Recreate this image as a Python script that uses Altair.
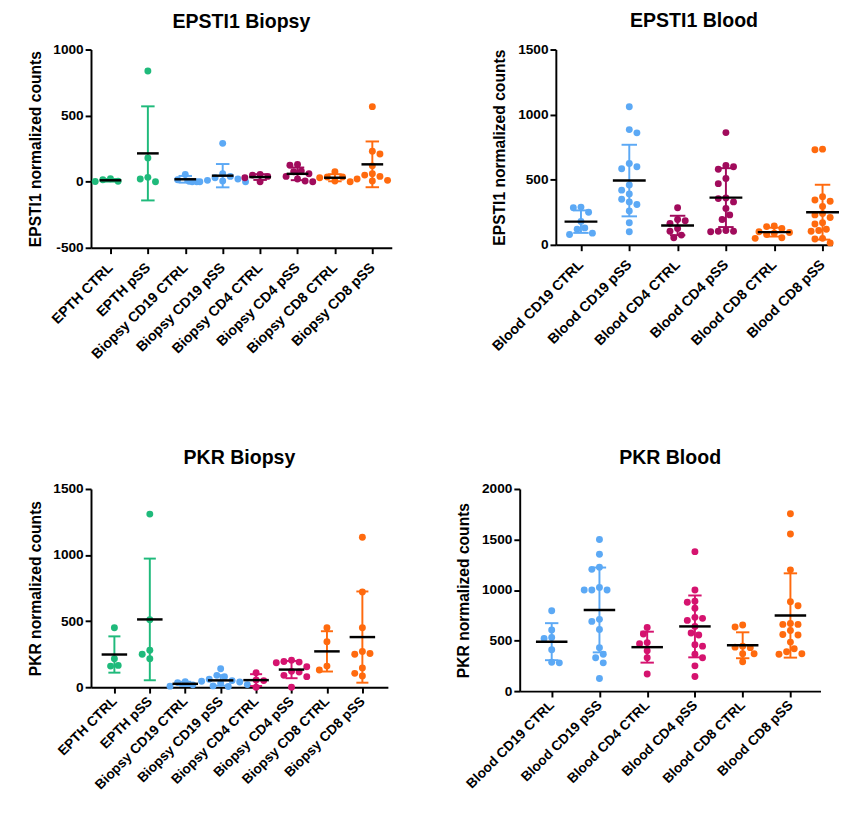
import json
import altair as alt
import pandas as pd

# ---------------- data ----------------
GREEN = "#1FBA7B"
BLUE = "#5CA9F5"
MAROON = "#A10B5C"
PINK = "#D5136F"
ORANGE = "#FF6A0E"

tl_groups = ["EPTH CTRL", "EPTH pSS", "Biopsy CD19 CTRL", "Biopsy CD19 pSS",
             "Biopsy CD4 CTRL", "Biopsy CD4 pSS", "Biopsy CD8 CTRL", "Biopsy CD8 pSS"]
tl_colors = [GREEN, GREEN, BLUE, BLUE, MAROON, MAROON, ORANGE, ORANGE]
tl_values = [
    [22, 15, 3, 2],
    [838, 180, 33, 20, 0],
    [55, 15, 3, 0],
    [290, 60, 40, 30, 20, 10, 5, 0, 0, 0],
    [55, 50, 40, 30, 0],
    [130, 125, 80, 75, 60, 40, 20, 5, 0],
    [75, 35, 35, 30, 5, 0],
    [568, 230, 210, 120, 60, 50, 40, 20, 10, 5],
]
tl_yticks = [-500, 0, 500, 1000]

tr_groups = ["Blood CD19 CTRL", "Blood CD19 pSS", "Blood CD4 CTRL",
             "Blood CD4 pSS", "Blood CD8 CTRL", "Blood CD8 pSS"]
tr_colors = [BLUE, BLUE, MAROON, MAROON, ORANGE, ORANGE]
tr_values = [
    [290, 285, 250, 180, 130, 120, 90, 80],
    [1060, 885, 860, 625, 600, 585, 460, 420, 390, 350, 330, 310, 260, 170, 100],
    [285, 195, 185, 165, 125, 105, 75, 55],
    [862, 610, 600, 580, 510, 470, 360, 355, 330, 280, 230, 195, 110, 105, 105, 100],
    [145, 140, 125, 100, 95, 90, 80, 55, 50],
    [735, 730, 370, 345, 335, 295, 240, 230, 210, 170, 160, 120, 110, 105, 50, 45, 15],
]
tr_yticks = [0, 500, 1000, 1500]

bl_groups = tl_groups
bl_colors = [GREEN, GREEN, BLUE, BLUE, PINK, PINK, ORANGE, ORANGE]
bl_values = [
    [450, 215, 165, 160],
    [1310, 510, 280, 250, 215],
    [42, 35, 18, 8],
    [140, 90, 80, 60, 50, 45, 40, 30, 20, 10, 5],
    [110, 55, 50, 0],
    [205, 195, 190, 185, 155, 120, 115, 90, 80, 0],
    [450, 345, 160, 130],
    [1135, 720, 450, 270, 255, 250, 145, 105, 85],
]
bl_yticks = [0, 500, 1000, 1500]

br_groups = tr_groups
br_colors = [BLUE, BLUE, PINK, PINK, ORANGE, ORANGE]
br_values = [
    [795, 605, 530, 520, 410, 285, 280],
    [1500, 1355, 1225, 1205, 1025, 1000, 1000, 1000, 710, 690, 610, 430, 365, 330, 280, 125],
    [630, 565, 480, 470, 400, 330, 170],
    [1380, 1000, 890, 880, 820, 730, 720, 700, 640, 575, 555, 460, 445, 365, 330, 250, 145],
    [655, 635, 445, 435, 430, 370, 370, 290],
    [1755, 1555, 1200, 885, 845, 670, 660, 660, 600, 560, 555, 485, 420, 390, 370, 365],
]
br_yticks = [0, 500, 1000, 1500, 2000]

FONT = "Liberation Sans"
DOT = 50  # symbol area


def swarm(vals, ypx, step_px, diam=7.8):
    """Deterministic beeswarm: horizontal offsets (in category units) so dots do not overlap."""
    order = sorted(range(len(vals)), key=lambda i: -vals[i])
    placed = []
    offs = [0.0] * len(vals)
    for n_i, i in enumerate(order):
        y = vals[i] * ypx
        best = None
        for k in range(0, 60):
            for sgn in ((1, -1) if n_i % 2 == 0 else (-1, 1)):
                x = sgn * k * diam * 0.5
                if all((x - px) ** 2 + (y - py) ** 2 >= (diam * 0.92) ** 2 for px, py in placed):
                    best = x
                    break
            if best is not None:
                break
        placed.append((best, y))
        offs[i] = best / step_px
    return offs


def panel(title, ytitle, groups, values, colors, ydom, yticks, width, height,
          padl, padr, meanh, caph, toff, xlabpad, xlabsize, ytitle_lead=0):
    n = len(groups)
    step_px = width / (n - 1 + padl + padr)
    ypx = height / (ydom[1] - ydom[0])
    rows = []
    for gi, (g, vals) in enumerate(zip(groups, values)):
        for v, o in zip(vals, swarm(vals, ypx, step_px)):
            rows.append({"group": g, "col": colors[gi], "idx": gi, "value": v, "pos": gi + o})
    df = pd.DataFrame(rows)

    xscale = alt.Scale(domain=[-padl, n - 1 + padr], nice=False, zero=False)
    yscale = alt.Scale(domain=ydom, nice=False, zero=False)
    color = alt.Color("col:N", scale=None, legend=None)
    xaxis = alt.Axis(title=None, values=list(range(n)),
                     labelExpr=json.dumps(groups) + "[round(datum.value)]",
                     labelAngle=-45, labelAlign="right", labelBaseline="middle",
                     labelFontSize=xlabsize, labelPadding=xlabpad, labelOverlap=False,
                     labelBound=False, labelFlush=False)
    ytitle_text = ["", ytitle] if ytitle_lead else ytitle
    yaxis_kw = dict(title=ytitle_text, values=yticks, labelExpr="'' + datum.value")
    if ytitle_lead:
        yaxis_kw["titleLineHeight"] = ytitle_lead
    yaxis = alt.Axis(**yaxis_kw)

    base = alt.Chart(df)
    pts = base.mark_circle(size=DOT, opacity=1).encode(
        x=alt.X("pos:Q", scale=xscale, axis=xaxis),
        y=alt.Y("value:Q", scale=yscale, axis=yaxis),
        color=color,
    )
    stats = base.transform_aggregate(
        mean="mean(value)", sd="stdev(value)", groupby=["idx", "col"]
    ).transform_calculate(
        lo="datum.mean - datum.sd",
        hi="datum.mean + datum.sd",
        m1=f"datum.idx - {meanh}",
        m2=f"datum.idx + {meanh}",
        c1=f"datum.idx - {caph}",
        c2=f"datum.idx + {caph}",
    )
    vbar = stats.mark_rule(strokeWidth=2).encode(
        x=alt.X("idx:Q", title=None), y=alt.Y("lo:Q", title=ytitle_text), y2="hi:Q", color=color)
    capt = stats.mark_rule(strokeWidth=2).encode(
        x=alt.X("c1:Q", title=None), x2="c2:Q", y=alt.Y("hi:Q", title=ytitle_text), color=color)
    capb = stats.mark_rule(strokeWidth=2).encode(
        x=alt.X("c1:Q", title=None), x2="c2:Q", y=alt.Y("lo:Q", title=ytitle_text), color=color)
    mline = stats.mark_rule(strokeWidth=2.5, color="black").encode(
        x=alt.X("m1:Q", title=None), x2="m2:Q", y=alt.Y("mean:Q", title=ytitle_text))
    return alt.layer(pts, vbar, capt, capb, mline).properties(
        width=width, height=height,
        title=alt.TitleParams(title, offset=toff),
    )


tl = panel("EPSTI1 Biopsy", "EPSTI1 normalized counts", tl_groups, tl_values, tl_colors,
           [-500, 1000], tl_yticks, 308, 203, 0.52, 0.52, 0.29, 0.18, 11, 12, 14.5)
tr = panel("EPSTI1 Blood", "EPSTI1 normalized counts", tr_groups, tr_values, tr_colors,
           [0, 1500], tr_yticks, 283, 200, 0.52, 0.2, 0.34, 0.16, 12, 12, 14.5)
bl = panel("PKR Biopsy", "PKR normalized counts", bl_groups, bl_values, bl_colors,
           [0, 1500], bl_yticks, 304, 203, 0.66, 0.72, 0.36, 0.17, 15, 6, 14, ytitle_lead=12)
br = panel("PKR Blood", "PKR normalized counts", br_groups, br_values, br_colors,
           [0, 2000], br_yticks, 308, 207, 0.67, 0.63, 0.33, 0.14, 15, 6, 14)

row1 = alt.hconcat(tl, tr, spacing=168, bounds="flush")
row2 = alt.hconcat(bl, br, spacing=135, bounds="flush")

chart = alt.vconcat(row1, row2, spacing=88).properties(
    padding={"left": 7, "top": -6, "right": 0, "bottom": 0}
).configure_view(stroke=None).configure_axis(
    domainColor="black", domainWidth=2, tickColor="black", tickWidth=2, tickSize=6,
    labelColor="black", labelFont=FONT, labelFontSize=14, labelFontWeight="bold",
    labelPadding=2, titleColor="black", titleFont=FONT, titleFontSize=16,
    titleFontWeight="bold", titlePadding=10, grid=False,
).configure_title(
    font=FONT, fontSize=20, fontWeight="bold", color="black", anchor="middle"
)

chart.save("out.html", embed_options={"renderer": "svg", "actions": False})
